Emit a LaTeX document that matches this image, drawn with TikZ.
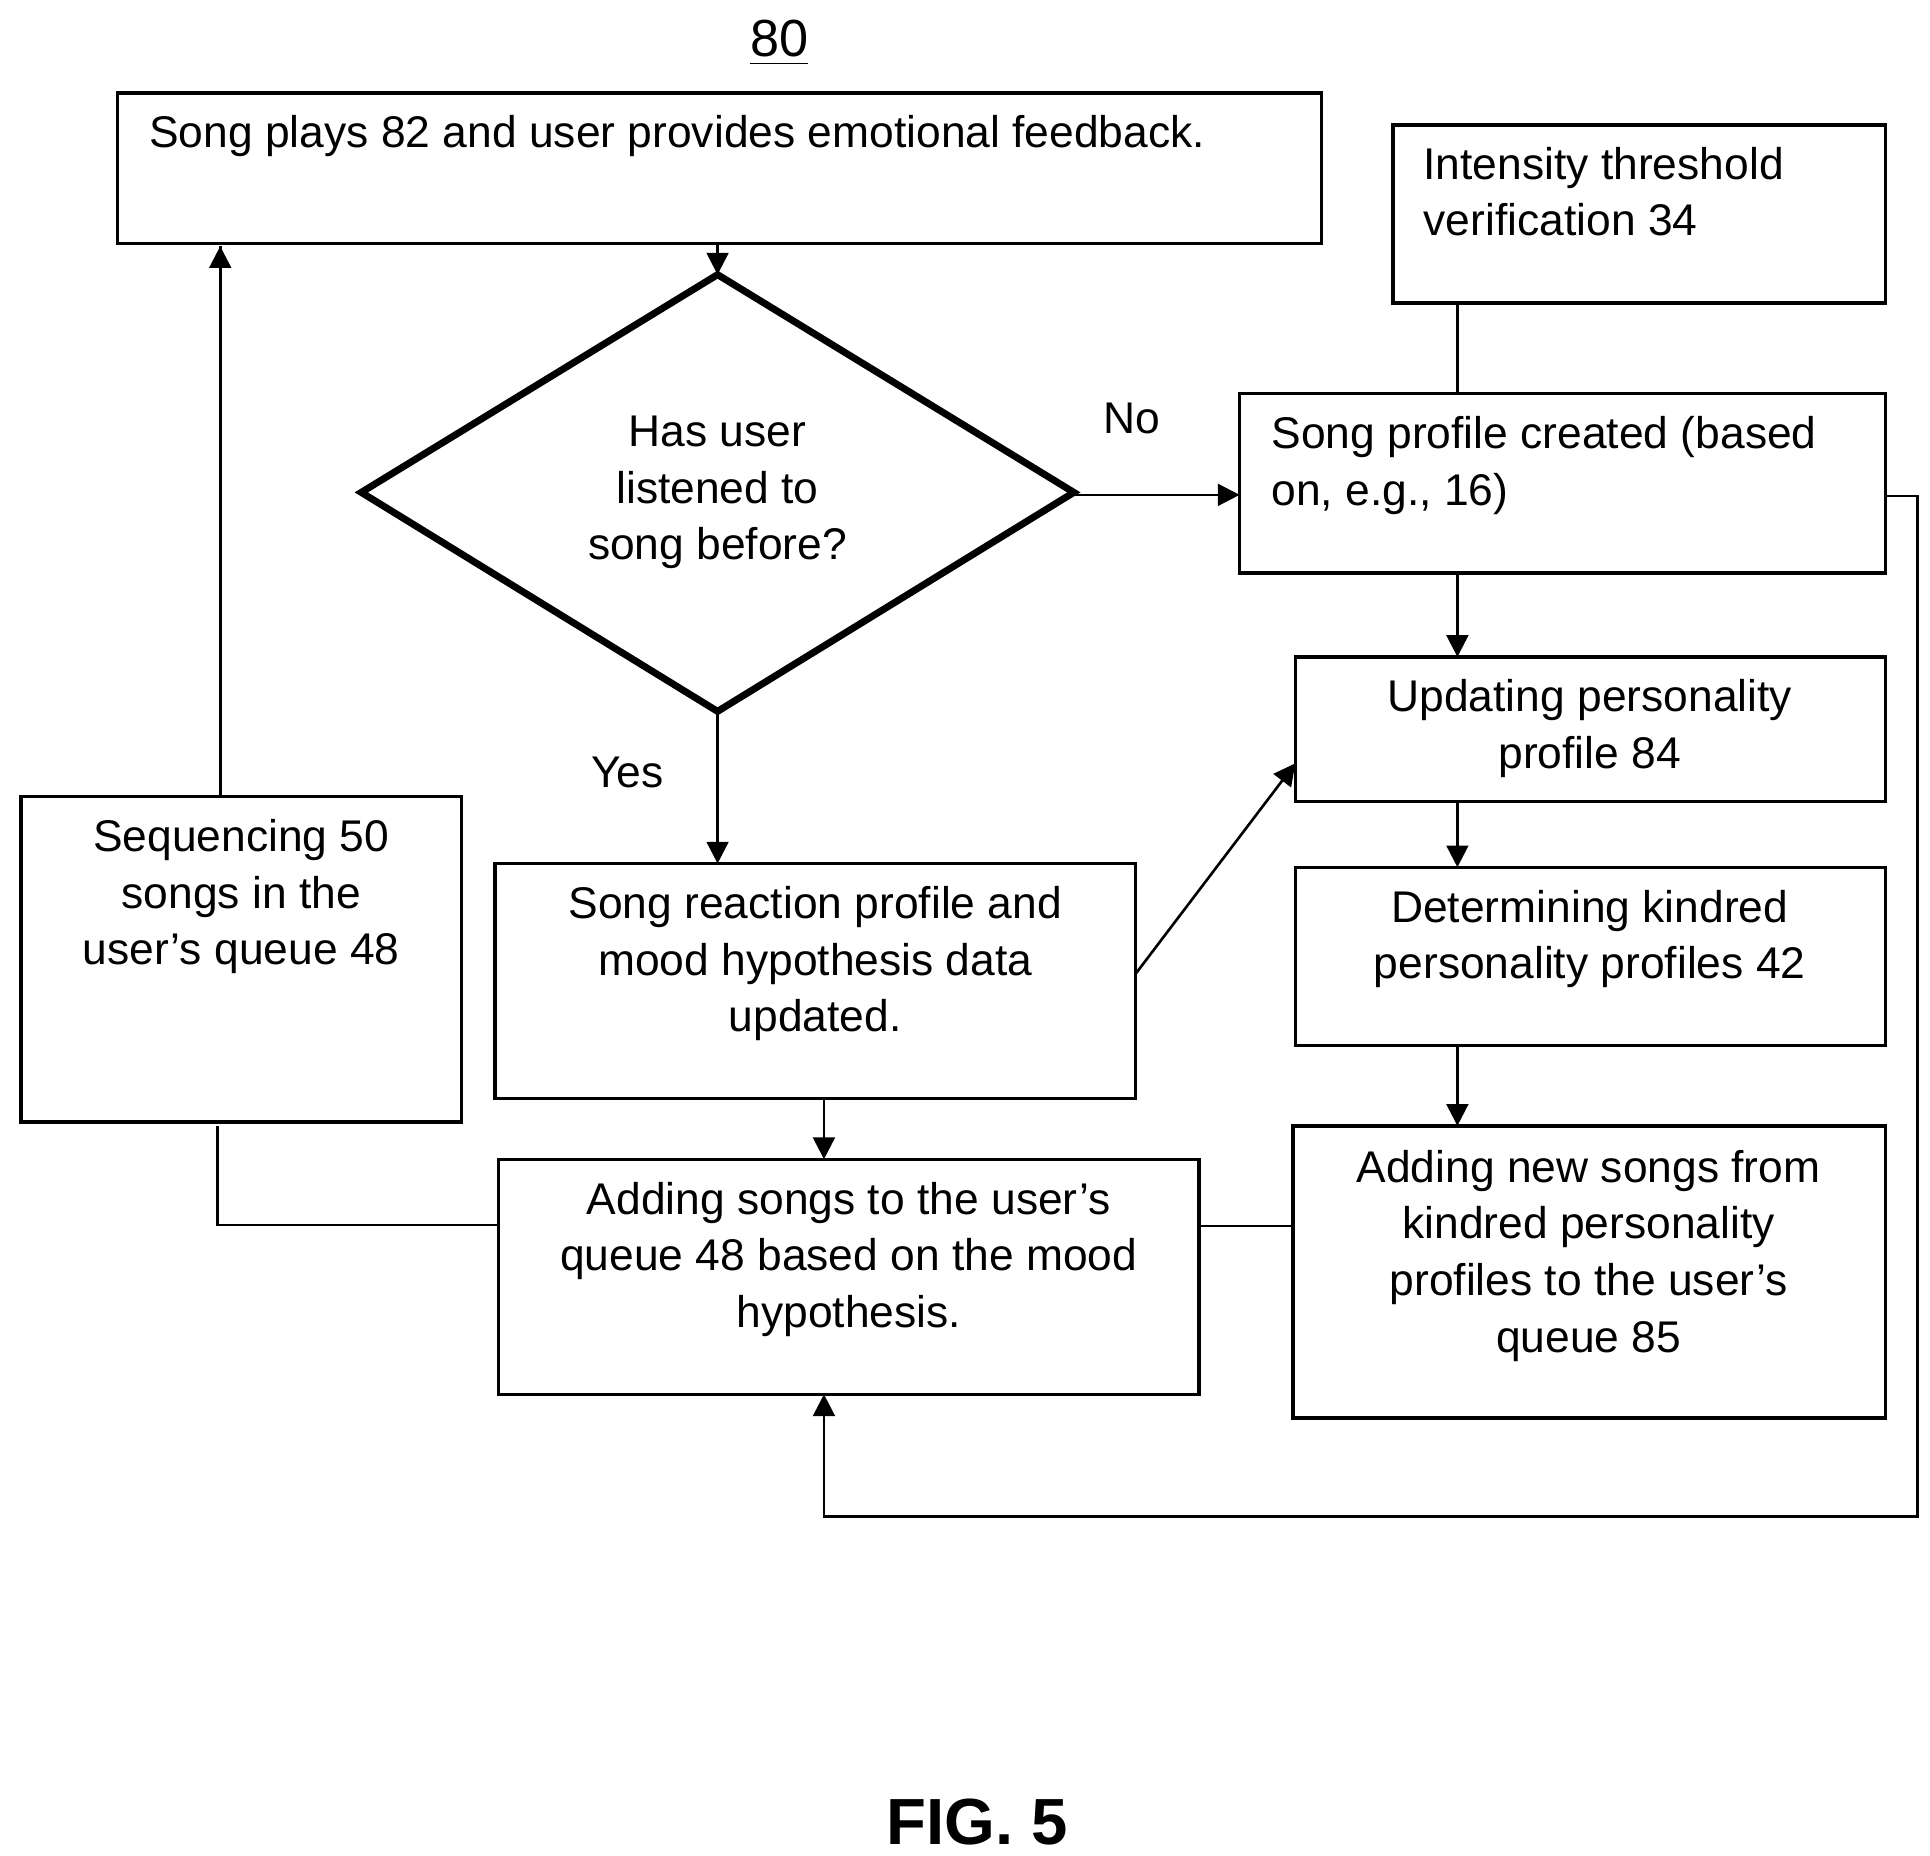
\documentclass[tikz,border=0pt]{standalone}
\usepackage{fontspec}
\setmainfont{Liberation Sans}
\usetikzlibrary{arrows.meta}
\begin{document}
\begin{tikzpicture}[x=0.01cm,y=-0.01cm,
  bx/.style={draw,line width=0.8pt},
  ln/.style={line width=0.6pt},
  ar/.style={ln,-{Triangle[length=5pt,width=5pt]}},
  tx/.style={font=\fontsize{10.2}{13}\selectfont,inner sep=0pt}]
\useasboundingbox (0,0) rectangle (1560,1500);
\node[tx,font=\fontsize{12}{14}\selectfont] (n80) at (630,35) {\underline{80}};
\draw[bx] (95,75) rectangle (1068,197);
\coordinate (b1b) at (580,197); \coordinate (b1s) at (178,199);
\node[tx,anchor=west] (t1) at (120,110) {Song plays 82 and user provides emotional feedback.};
\draw[bx] (1126,101) rectangle (1524,245);
\node[tx,anchor=north west,align=left] (t2) at (1150,118) {Intensity threshold\\verification 34};
\draw[line width=1.6pt,line join=miter] (580,222) -- (868,398) -- (580,575) -- (292,398) -- cycle;
\node[tx,align=center] (t3) at (580,398) {Has user\\listened to\\song before?};
\draw[bx] (1002,318) rectangle (1524,463);
\node[tx,anchor=north west,align=left] (t4) at (1027,336) {Song profile created (based\\on, e.g., 16)};
\draw[bx] (1047,531) rectangle (1524,648);
\node[tx,align=center] (t5) at (1285,589) {Updating personality\\profile 84};
\draw[bx] (1047,701) rectangle (1524,845);
\node[tx,align=center] (t6) at (1285,759) {Determining kindred\\personality profiles 42};
\draw[bx] (1045,910) rectangle (1524,1146);
\node[tx,align=center] (t7) at (1284,1015) {Adding new songs from\\kindred personality\\profiles to the user’s\\queue 85};
\draw[bx] (400,698) rectangle (918,888);
\node[tx,align=center] (t8) at (659,779) {Song reaction profile and\\mood hypothesis data\\updated.};
\draw[bx] (403,937) rectangle (969,1127);
\node[tx,align=center] (t9) at (686,1018) {Adding songs to the user’s\\queue 48 based on the mood\\hypothesis.};
\draw[bx] (17,644) rectangle (373,907);
\node[tx,align=center] (t10) at (195,725) {Sequencing 50\\songs in the\\user’s queue 48};
\node[tx] (no) at (915,338) {No};
\node[tx] (yes) at (507,624) {Yes};
\node[tx,font=\bfseries\fontsize{15}{18}\selectfont] (fig) at (790,1473) {FIG. 5};
\draw[ar] (b1b) -- (580,222);
\draw[ar] (868,400) -- (1002,400);
\draw[ar] (580,575) -- (580,698);
\draw[ln] (1178,245) -- (1178,318);
\draw[ar] (1178,463) -- (1178,531);
\draw[ar] (1178,648) -- (1178,701);
\draw[ar] (1178,845) -- (1178,910);
\draw[ar] (918,787) -- (1047,617);
\draw[ar] (666,888) -- (666,937);
\draw[ln] (1045,991) -- (969,991);
\draw[ar] (1524,401) -- (1550,401) -- (1550,1226) -- (666,1226) -- (666,1127);
\draw[ln] (403,990) -- (176,990) -- (176,910);
\draw[ar] (178,644) -- (b1s) ++(0,0);
\end{tikzpicture}
\end{document}
